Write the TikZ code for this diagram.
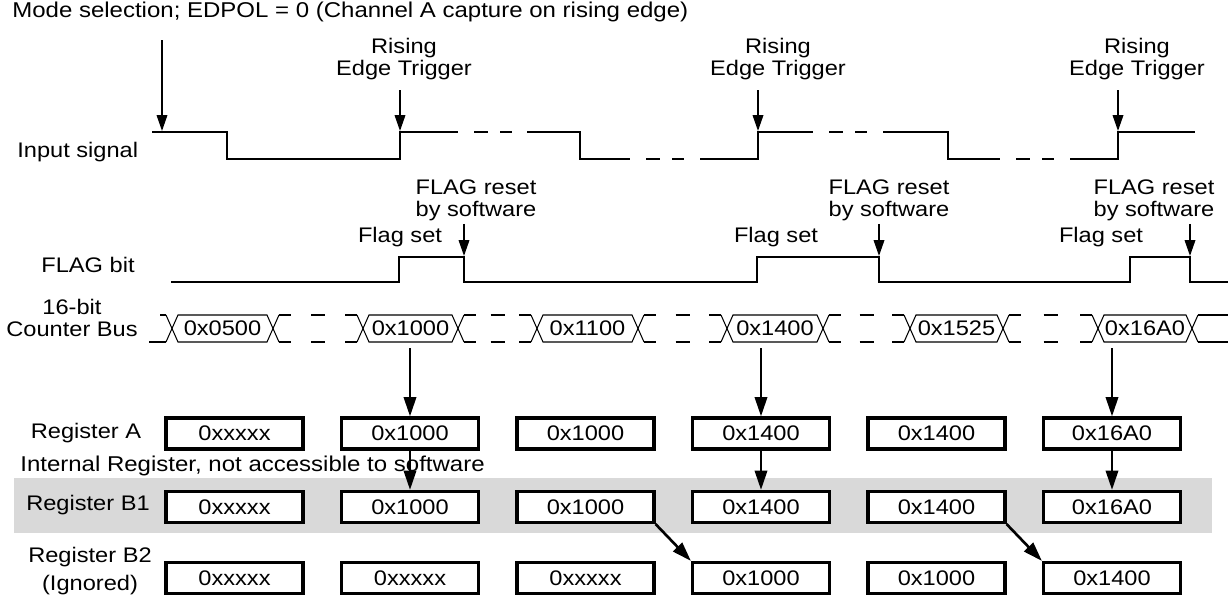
\documentclass[tikz,border=0pt]{standalone}
\usepackage{fontspec}
\setmainfont{Liberation Sans}[FakeStretch=1.12]
\usetikzlibrary{arrows.meta,calc}

\begin{document}
\begin{tikzpicture}[x=0.02cm, y=-0.02cm,
        every node/.style={align=center, inner sep=0pt, font=\fontsize{12}{12.4}\selectfont},
        sig/.style={line width=1.6pt},
        bus/.style={line width=0.6pt},
        busgap/.style={line width=1.1pt},
        trig/.style={line width=0.9pt, -{Triangle[length=9pt,width=6pt]}},
        capture/.style={line width=1.5pt, -{Triangle[length=11pt,width=7pt]}},
        reg/.style={draw, fill=white, line width=1.8pt, minimum width=2.74cm, minimum height=0.62cm}]
        \useasboundingbox (0,0) rectangle (1228,598);

        % Input signal
        \node[anchor=west, font=\fontsize{12.2}{13}\selectfont] (mode) at (12,12) {Mode selection; EDPOL = 0 (Channel A capture on rising edge)};
        \node[anchor=west] (insig) at (17,152) {Input signal};
        \draw[sig] (152,132) -- (227,132) -- (227,159) -- (400,159) -- (400,132) -- (458,132)
            (527,132) -- (580,132) -- (580,159) -- (630,159)
            (700,159) -- (758,159) -- (758,132) -- (813,132)
            (883,132) -- (948,132) -- (948,159) -- (1000,159)
            (1070,159) -- (1118,159) -- (1118,132) -- (1195,132);
        \foreach \s/\y in {458/132, 630/159, 813/132, 1000/159}
            \draw[sig] (\s+16,\y) -- ++(14,0) (\s+42,\y) -- ++(12,0);

        % Trigger arrows
        \coordinate (m0) at (162,131);
        \coordinate (e1) at (400,131);
        \coordinate (e2) at (758,131);
        \coordinate (e3) at (1118,131);
        \node (rise1) at (404,59) {Rising\\Edge Trigger};
        \node (rise2) at (778,59) {Rising\\Edge Trigger};
        \node (rise3) at (1137,59) {Rising\\Edge Trigger};
        \draw[trig] (m0 |- mode.south) ++(0,18) -- (m0);
        \foreach \i in {1,2,3}
            \draw[trig] (e\i |- rise\i.south) ++(0,10) -- (e\i);

        % FLAG bit
        \node (flagbit) at (88,265) {FLAG bit};
        \draw[sig] (171,282) -- (399,282) -- (399,257) -- (464,257) -- (464,282) -- (757,282) -- (757,257)
            -- (879,257) -- (879,282) -- (1130,282) -- (1130,257) -- (1190,257) -- (1190,282) -- (1228,282);
        \node (set1) at (400,237) {Flag set};
        \node (set2) at (776,237) {Flag set};
        \node (set3) at (1101,237) {Flag set};
        \coordinate (f1) at (464,256);
        \coordinate (f2) at (879,256);
        \coordinate (f3) at (1190,256);
        \node (reset1) at (476,200) {FLAG reset\\by software};
        \node (reset2) at (889,200) {FLAG reset\\by software};
        \node (reset3) at (1154,200) {FLAG reset\\by software};
        \foreach \i in {1,2,3}
            \draw[trig] (f\i |- reset\i.south) ++(0,3) -- (f\i);

        % Counter bus
        \node (buslbl) at (72,318) {16-bit\\Counter Bus};
        \draw[busgap] (149,342) -- (166,342) (160,315) -- (166,315);
        \foreach \a/\b/\v/\n in {172/273/0x0500/1, 363/458/0x1000/2, 537/638/0x1100/3,
                727/823/0x1400/4, 910/1003/0x1525/5, 1098/1192/0x16A0/6} {
            \draw[bus] (\a,328.5) -- (\a+6,315) -- (\b-6,315) -- (\b,328.5) -- (\b-6,342) -- (\a+6,342) -- cycle;
            \draw[bus] (\a-6,315) -- (\a,328.5) -- (\a-6,342) (\b+6,315) -- (\b,328.5) -- (\b+6,342);
            \node (v\n) at ({(\a+\b)/2},328.5) {\v};
        }
        \foreach \b/\a in {273/363, 458/537, 638/727, 823/910, 1003/1098}
            \foreach \y in {315,342}
                \draw[busgap] (\b+6,\y) -- (\b+18,\y) ({(\a+\b)/2-7},\y) -- ++(14,0) (\a-18,\y) -- (\a-6,\y);
        \draw[bus] (1198,315) -- (1228,315) (1198,342) -- (1228,342);
        \coordinate (busb) at (0,348);

        % Registers
        \fill[black!15] (14,478) rectangle (1212,533);
        \node (rega) at (86,433) {Register A};
        \node[anchor=west, font=\fontsize{12.2}{13}\selectfont] (intern) at (20,466) {Internal Register, not accessible to software};
        \node (regb1) at (88,505) {Register B1};
        \node (regb2) at (90,571) {Register B2\\[3.5pt](Ignored)};
        \foreach \v [count=\i] in {0xxxxx,0x1000,0x1000,0x1400,0x1400,0x16A0}
            \node[reg] (a\i) at ({234.5+175.5*(\i-1)},433.5) {\v};
        \foreach \v [count=\i] in {0xxxxx,0x1000,0x1000,0x1400,0x1400,0x16A0}
            \node[reg] (b\i) at ({234.5+175.5*(\i-1)},507) {\v};
        \foreach \v [count=\i] in {0xxxxx,0xxxxx,0xxxxx,0x1000,0x1000,0x1400}
            \node[reg] (c\i) at ({234.5+175.5*(\i-1)},578) {\v};

        % Capture arrows
        \foreach \i in {2,4,6} {
            \draw[capture] (a\i.north |- busb) -- (a\i.north);
            \draw[capture] (a\i.south) -- (b\i.north);
        }
        \draw[capture] (b3.south east) -- (c4.north west);
        \draw[capture] (b5.south east) -- (c6.north west);

    \end{tikzpicture}
\end{document}
